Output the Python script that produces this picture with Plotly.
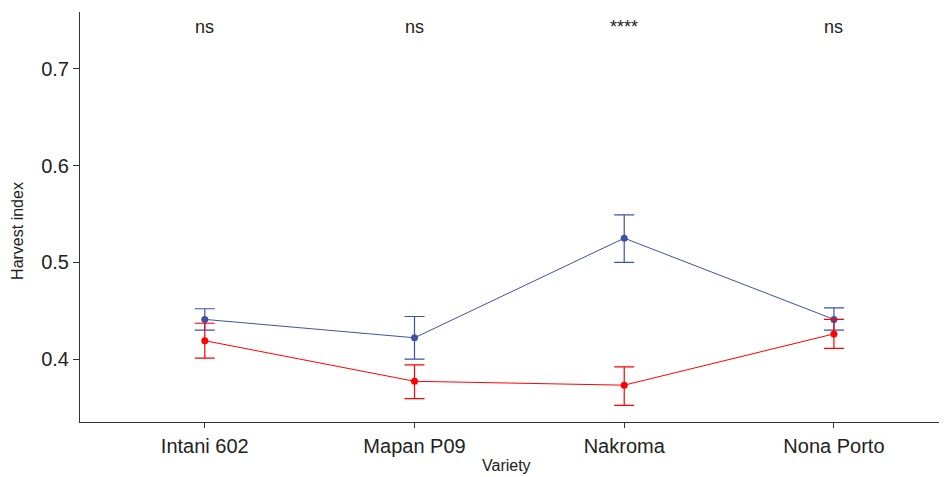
import plotly.graph_objects as go

varieties = ["Intani 602", "Mapan P09", "Nakroma", "Nona Porto"]
blue_mean = [0.441, 0.422, 0.525, 0.441]
blue_upper = [0.452, 0.444, 0.549, 0.453]
blue_lower = [0.430, 0.400, 0.500, 0.430]
red_mean = [0.419, 0.377, 0.373, 0.426]
red_upper = [0.437, 0.394, 0.392, 0.441]
red_lower = [0.401, 0.359, 0.352, 0.411]
signif = ["ns", "ns", "****", "ns"]
y_ticks = [0.4, 0.5, 0.6, 0.7]

xs = list(range(len(varieties)))
BLUE = "#3F51A3"
RED = "#FF0000"
TXT = "#222222"

fig = go.Figure()
for mean, up, lo, col in [(blue_mean, blue_upper, blue_lower, BLUE),
                          (red_mean, red_upper, red_lower, RED)]:
    fig.add_trace(go.Scatter(
        x=xs, y=mean, mode="lines+markers",
        line=dict(color=col, width=1),
        marker=dict(color=col, size=7, symbol="circle"),
        error_y=dict(type="data", symmetric=False,
                     array=[u - m for u, m in zip(up, mean)],
                     arrayminus=[m - l for m, l in zip(mean, lo)],
                     color=col, thickness=1.2, width=10),
        showlegend=False,
    ))

for x, s in zip(xs, signif):
    fig.add_annotation(x=x, y=0.743, text=s, showarrow=False,
                       font=dict(size=18, color=TXT),
                       xref="x", yref="y")

# axis titles placed as text annotations
fig.add_annotation(x=-0.0722, y=0.466, xref="paper", yref="paper",
                   text="Harvest index", textangle=-90, showarrow=False,
                   xanchor="center", yanchor="middle",
                   font=dict(size=16, color=TXT))
fig.add_annotation(x=0.497, y=-0.105, xref="paper", yref="paper",
                   text="Variety", showarrow=False,
                   xanchor="center", yanchor="middle",
                   font=dict(size=16, color=TXT))

fig.update_layout(
    width=931, height=469,
    margin=dict(l=72, r=0, t=4, b=55),
    plot_bgcolor="white", paper_bgcolor="white",
    font=dict(family="Liberation Sans, Arial, sans-serif", color=TXT),
    xaxis=dict(range=[-0.595, 3.501], tickvals=xs, ticktext=varieties,
               showgrid=False, zeroline=False, showline=True,
               linecolor="#333", linewidth=1, ticks="outside",
               ticklen=5, tickcolor="#333", tickfont=dict(size=20, color=TXT),
               ticklabelstandoff=1),
    yaxis=dict(range=[0.3349, 0.7589], tickvals=y_ticks,
               ticktext=[f"{v:.1f}" for v in y_ticks],
               showgrid=False, zeroline=False, showline=True,
               linecolor="#333", linewidth=1, ticks="outside",
               ticklen=6, tickcolor="#333", tickfont=dict(size=20, color=TXT)),
)

fig.write_html("out.html")
